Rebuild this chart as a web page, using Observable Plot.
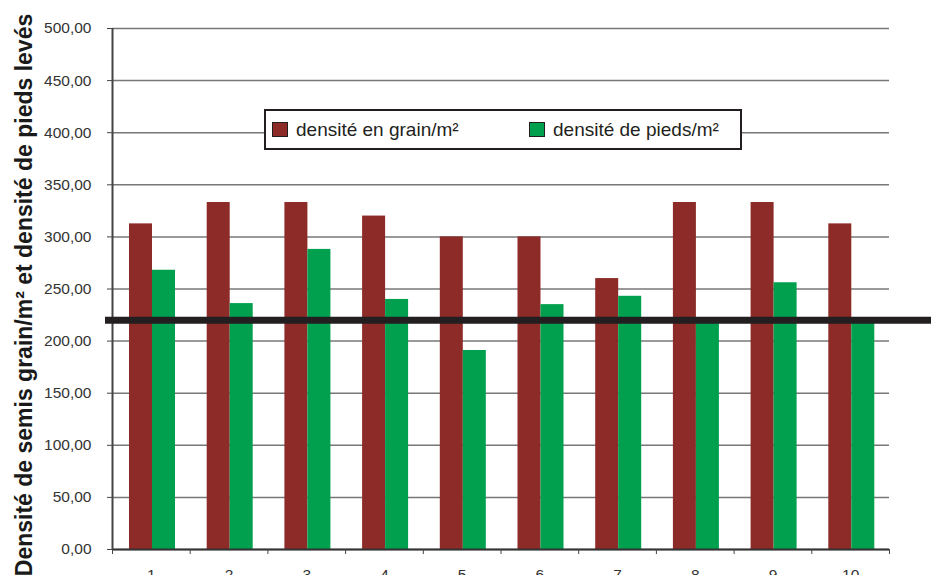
<!DOCTYPE html>
<html>
<head>
<meta charset="utf-8">
<script src="https://cdn.jsdelivr.net/npm/d3@7"></script>
<script src="https://cdn.jsdelivr.net/npm/@observablehq/plot@0.6"></script>
<style>
  html, body { margin: 0; padding: 0; background: #fff; }
  #wrap { position: relative; width: 931px; height: 575px; overflow: hidden; font-family: "Liberation Sans", Arial, sans-serif; }
  #legend {
    position: absolute; left: 264px; top: 109px; width: 474px; height: 37px;
    border: 2px solid #231f20; background: #fff; box-sizing: content-box;
    font-size: 19px; color: #231f20;
  }
  .item { position: absolute; top: 0; height: 37px; display: flex; align-items: center; white-space: nowrap; }
  .sw { width: 14px; height: 13px; border: 1px solid #231f20; margin-right: 8px; }
</style>
</head>
<body>
<div id="wrap"><div id="chart"></div><div id="legend"></div></div>
<script>
const categories = ["1","2","3","4","5","6","7","8","9","10"];
const grain = [312.5, 333, 333, 320, 300, 300, 260, 333, 333, 312.5];
const pieds = [268, 236, 288, 240, 191, 235, 243, 218, 256, 218];
const yTicks = [0, 50, 100, 150, 200, 250, 300, 350, 400, 450, 500];
const seuil = [220];
const seriesNames = ["densité en grain/m²", "densité de pieds/m²"];
const colors = ["#8c2b27", "#00a04f"];
const yTitle = "Densité de semis grain/m² et densité de pieds levés";

const data = categories.map((c, i) => ({cat: c, grain: grain[i], pieds: pieds[i]}));
const bw = (931 - 112 - 42) / categories.length;

const chart = Plot.plot({
  width: 931, height: 575,
  marginLeft: 112, marginRight: 42, marginTop: 28, marginBottom: 26,
  style: {fontFamily: "'Liberation Sans', Arial, sans-serif", fontSize: "15.5px", color: "#333", background: "#fff"},
  x: {type: "band", domain: categories, padding: 0, round: false, axis: null},
  y: {domain: [0, 500], axis: null},
  marks: [
    Plot.gridY(yTicks, {stroke: "#777", strokeOpacity: 1, strokeWidth: 1.5}),
    Plot.barY(data, {x: "cat", y: "grain", fill: colors[0], insetLeft: 17, insetRight: bw - 40}),
    Plot.barY(data, {x: "cat", y: "pieds", fill: colors[1], insetLeft: 40, insetRight: bw - 63}),
    Plot.ruleY([0], {stroke: "#333", strokeWidth: 2}),
    Plot.ruleX([categories[0]], {dx: -bw / 2, stroke: "#444", strokeWidth: 2}),
    Plot.axisY({ticks: yTicks, tickSize: 5, tickPadding: 16, label: null, stroke: "#444",
      tickFormat: d => d.toFixed(2).replace(".", ","), fill: "#333"}),
    Plot.axisX({tickSize: 0, tickPadding: 19, label: null, fill: "#333"}),
    Plot.axisX({tickSize: 5, tickFormat: () => "", label: null, dx: -bw / 2, stroke: "#444"}),
    Plot.axisX({ticks: [categories[categories.length - 1]], tickSize: 5, tickFormat: () => "", label: null, dx: bw / 2, stroke: "#444"}),
    Plot.ruleY(seuil, {stroke: "#231f20", strokeWidth: 7, insetLeft: -7, insetRight: -42}),
    Plot.text([yTitle], {text: d => d, frameAnchor: "left", textAnchor: "middle", lineAnchor: "middle",
      dx: -88, dy: 6, rotate: -90, fontSize: 23, fontWeight: "bold", fill: "#1a1a1a"})
  ]
});
document.getElementById("chart").appendChild(chart);

const legend = document.getElementById("legend");
const lefts = [6, 263];
seriesNames.forEach((name, i) => {
  const it = document.createElement("div");
  it.className = "item";
  it.style.left = lefts[i] + "px";
  const sw = document.createElement("div");
  sw.className = "sw";
  sw.style.background = colors[i];
  const t = document.createElement("span");
  t.textContent = name;
  it.appendChild(sw); it.appendChild(t);
  legend.appendChild(it);
});
</script>
</body>
</html>
